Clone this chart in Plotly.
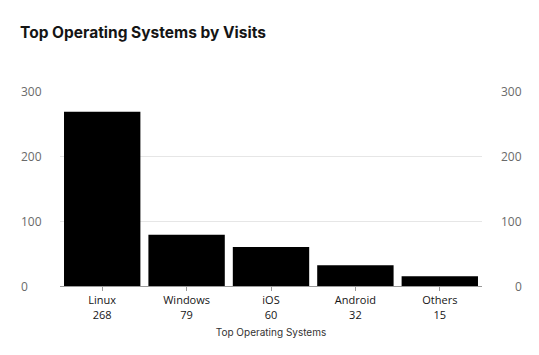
import plotly.graph_objects as go

categories = ["Linux", "Windows", "iOS", "Android", "Others"]
visits = [268, 79, 60, 32, 15]
y_ticks = [0, 100, 200, 300]

# page body has an 8px margin; compensate
OFF = 8
W, H = 539 - OFF, 355 - OFF
ML, MR, MT, MB = 60 - OFF, 56.5, 90.5 - OFF, 68.5
plot_w = W - ML - MR

tick_text = [f"{c}<br>{v}" for c, v in zip(categories, visits)]

fig = go.Figure(go.Bar(
    x=categories, y=visits,
    marker=dict(color="#000000", line=dict(width=0)),
    hoverinfo="x+y",
))

annos = []
for t in y_ticks:
    annos.append(dict(x=(19 - OFF - ML) / plot_w, y=t, xref="paper", yref="y",
                      text=str(t), showarrow=False, xanchor="left", yanchor="middle",
                      font=dict(family="Open Sans, sans-serif", size=12, color="#6a6a6a")))
    annos.append(dict(x=(525 - OFF - ML) / plot_w, y=t, xref="paper", yref="y",
                      text=str(t), showarrow=False, xanchor="right", yanchor="middle",
                      font=dict(family="Open Sans, sans-serif", size=12, color="#6a6a6a")))

fig.update_layout(
    width=W, height=H,
    margin=dict(l=ML, r=MR, t=MT, b=MB, autoexpand=False),
    paper_bgcolor="white", plot_bgcolor="white",
    bargap=0.095,
    showlegend=False,
    title=dict(text="<b>Top Operating Systems by Visits</b>", x=(20 - OFF) / W, xanchor="left",
               y=1 - (33 - OFF) / H, yanchor="middle",
               font=dict(family="Inter, sans-serif", size=15.5, color="#151515")),
    xaxis=dict(
        tickmode="array", tickvals=categories, ticktext=tick_text,
        tickfont=dict(family="Open Sans, sans-serif", size=11, color="#151515"),
        showline=True, linecolor="#9a9a9a", linewidth=1,
        ticks="outside", ticklen=4, tickcolor="#9a9a9a", tickwidth=1,
        showgrid=False,
        title=dict(text="Top Operating Systems", standoff=8,
                   font=dict(family="Inter, sans-serif", size=10, color="#333333")),
    ),
    yaxis=dict(
        range=[0, 300], tickvals=y_ticks, showticklabels=False,
        showgrid=True, gridcolor="#e6e6e6", gridwidth=1,
        zeroline=False, showline=False,
    ),
    annotations=annos,
)

fig.write_html("out.html")
